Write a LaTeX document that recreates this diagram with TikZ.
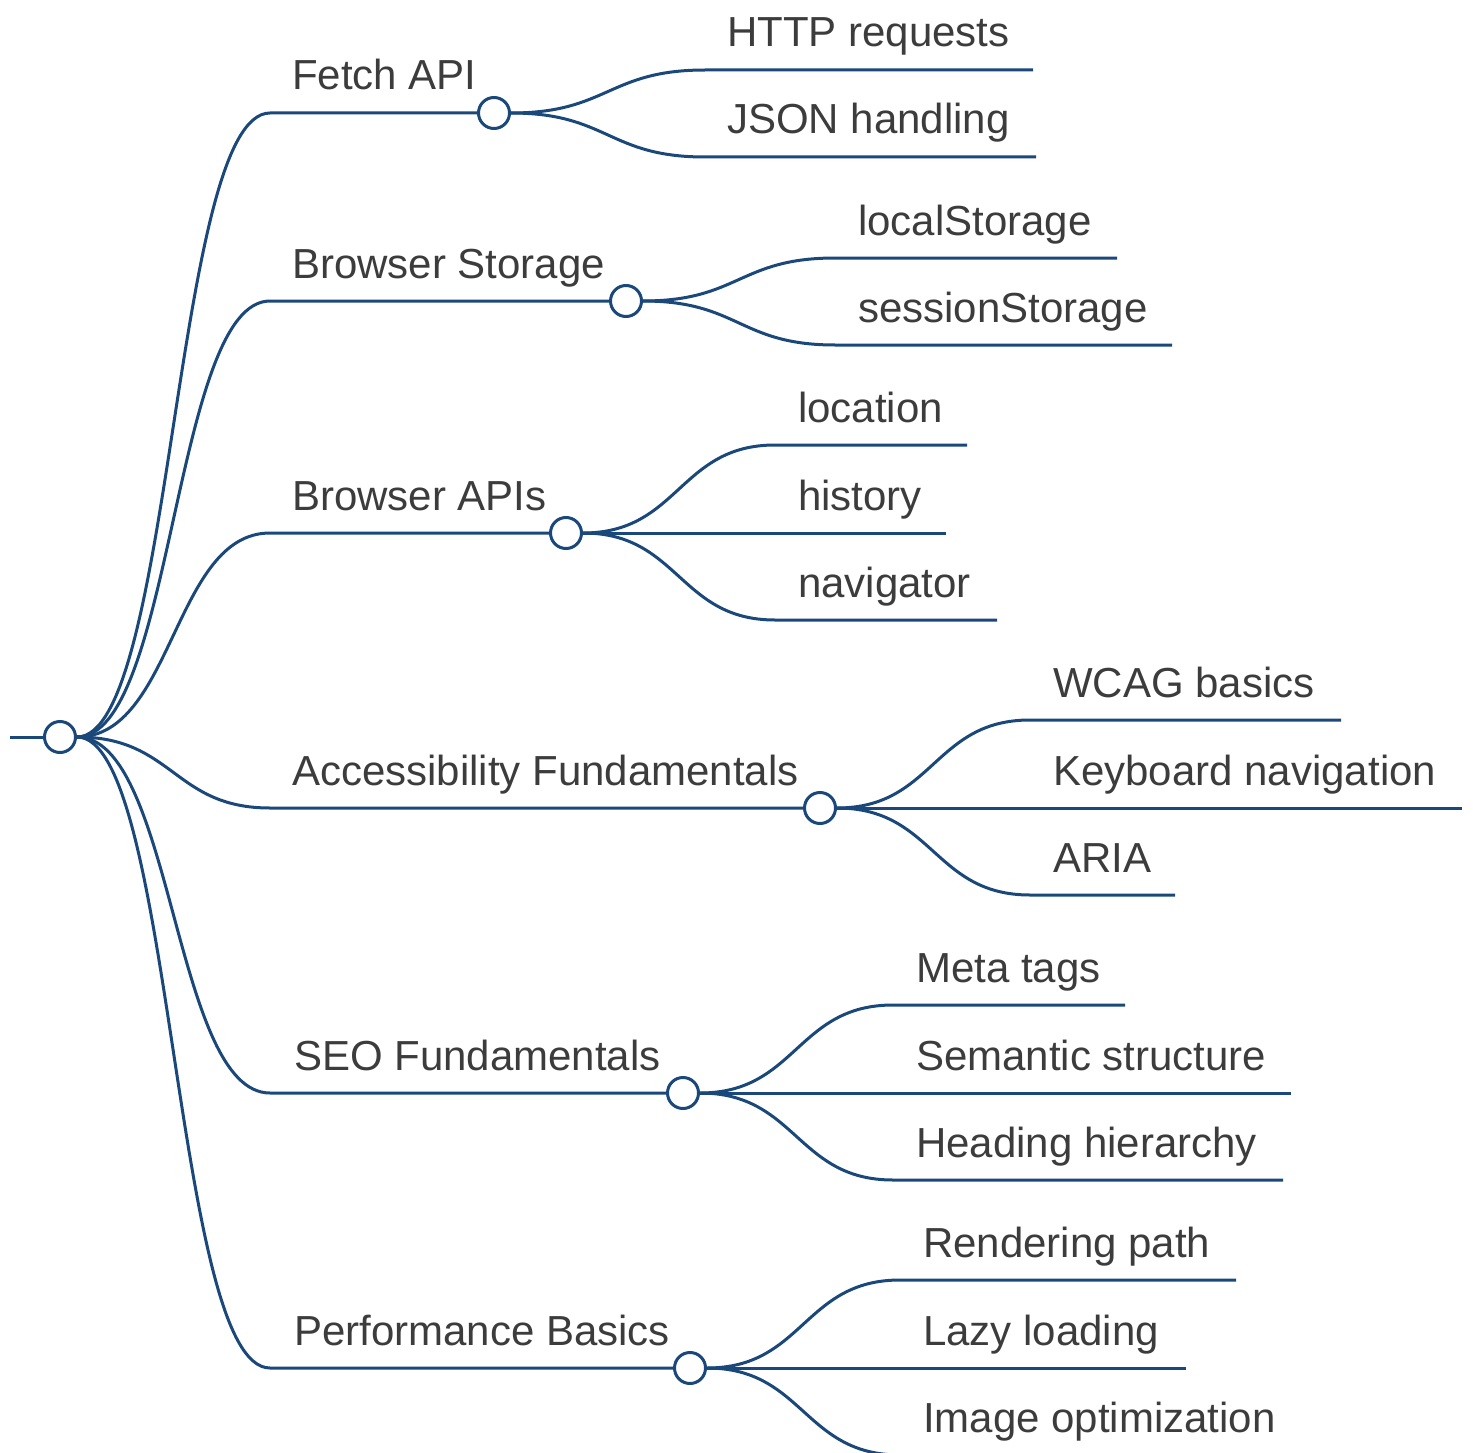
\documentclass[tikz,border=0pt]{standalone}
\usepackage{fontspec}
\setmainfont{Liberation Sans}
\usetikzlibrary{calc}
\definecolor{edgecol}{RGB}{26,72,122}
\definecolor{txtcol}{RGB}{60,60,60}
\begin{document}
\begin{tikzpicture}[x=1pt,y=-1pt,
  edgeline/.style={draw=edgecol,line width=3pt},
  hub/.style={circle,draw=edgecol,fill=white,line width=3pt,minimum size=31pt,inner sep=0pt},
  lbl/.style={anchor=base west,inner sep=0pt,text=txtcol,font=\fontsize{42}{50}\selectfont},
  hc/.style={to path={let \p1=(\tikztostart),\p2=(\tikztotarget) in .. controls ({(\x1+\x2)/2},\y1) and ({(\x1+\x2)/2},\y2) .. (\tikztotarget)}}
]
\useasboundingbox (0,0) rectangle (1473,1453);

% root
\coordinate (rootin) at (10,737);
\node[hub] (root) at (60,737) {};

% level 1 hubs
\node[hub] (fetch) at (494,113) {};
\node[hub] (stor) at (626,301) {};
\node[hub] (apis) at (566,533) {};
\node[hub] (acc) at (820,808) {};
\node[hub] (seo) at (683,1093) {};
\node[hub] (perf) at (690,1368) {};

\coordinate (fetchS) at (270,113);
\coordinate (storS) at (270,301);
\coordinate (apisS) at (270,533);
\coordinate (accS) at (270,808);
\coordinate (seoS) at (270,1093);
\coordinate (perfS) at (270,1368);

\draw[edgeline] (rootin) -- (root.west);
\draw[edgeline] (root.east) to[hc] (fetchS) -- (fetch.west);
\draw[edgeline] (root.east) to[hc] (storS) -- (stor.west);
\draw[edgeline] (root.east) to[hc] (apisS) -- (apis.west);
\draw[edgeline] (root.east) to[hc] (accS) -- (acc.west);
\draw[edgeline] (root.east) to[hc] (seoS) -- (seo.west);
\draw[edgeline] (root.east) to[hc] (perfS) -- (perf.west);

\node[lbl] (fetchT) at (292,90) {Fetch API};
\node[lbl] (storT) at (292,278) {Browser Storage};
\node[lbl] (apisT) at (292,510) {Browser APIs};
\node[lbl] (accT) at (292,785) {Accessibility Fundamentals};
\node[lbl] (seoT) at (294,1070) {SEO Fundamentals};
\node[lbl] (perfT) at (294,1345) {Performance Basics};

% Fetch API leaves
\coordinate (httpS) at (705,70); \coordinate (httpE) at (1033,70);
\coordinate (jsonS) at (705,157); \coordinate (jsonE) at (1036,157);
\draw[edgeline] (fetch.east) to[hc] (httpS) -- (httpE);
\draw[edgeline] (fetch.east) to[hc] (jsonS) -- (jsonE);
\node[lbl] (httpT) at (727,47) {HTTP requests};
\node[lbl] (jsonT) at (727,134) {JSON handling};

% Browser Storage leaves
\coordinate (locsS) at (835,258); \coordinate (locsE) at (1117,258);
\coordinate (sessS) at (835,345); \coordinate (sessE) at (1172,345);
\draw[edgeline] (stor.east) to[hc] (locsS) -- (locsE);
\draw[edgeline] (stor.east) to[hc] (sessS) -- (sessE);
\node[lbl] (locsT) at (858,235) {localStorage};
\node[lbl] (sessT) at (858,322) {sessionStorage};

% Browser APIs leaves
\coordinate (locS) at (775,445); \coordinate (locE) at (967,445);
\coordinate (histS) at (775,533); \coordinate (histE) at (946,533);
\coordinate (navS) at (775,620); \coordinate (navE) at (997,620);
\draw[edgeline] (apis.east) to[hc] (locS) -- (locE);
\draw[edgeline] (apis.east) -- (histS) -- (histE);
\draw[edgeline] (apis.east) to[hc] (navS) -- (navE);
\node[lbl] (locT) at (798,422) {location};
\node[lbl] (histT) at (798,510) {history};
\node[lbl] (navT) at (798,597) {navigator};

% Accessibility leaves
\coordinate (wcagS) at (1030,720); \coordinate (wcagE) at (1341,720);
\coordinate (kbdS) at (1030,808); \coordinate (kbdE) at (1462,808);
\coordinate (ariaS) at (1030,895); \coordinate (ariaE) at (1175,895);
\draw[edgeline] (acc.east) to[hc] (wcagS) -- (wcagE);
\draw[edgeline] (acc.east) -- (kbdS) -- (kbdE);
\draw[edgeline] (acc.east) to[hc] (ariaS) -- (ariaE);
\node[lbl] (wcagT) at (1053,697) {WCAG basics};
\node[lbl] (kbdT) at (1053,785) {Keyboard navigation};
\node[lbl] (ariaT) at (1053,872) {ARIA};

% SEO leaves
\coordinate (metaS) at (893,1005); \coordinate (metaE) at (1125,1005);
\coordinate (semS) at (893,1093); \coordinate (semE) at (1291,1093);
\coordinate (headS) at (893,1180); \coordinate (headE) at (1283,1180);
\draw[edgeline] (seo.east) to[hc] (metaS) -- (metaE);
\draw[edgeline] (seo.east) -- (semS) -- (semE);
\draw[edgeline] (seo.east) to[hc] (headS) -- (headE);
\node[lbl] (metaT) at (916,982) {Meta tags};
\node[lbl] (semT) at (916,1070) {Semantic structure};
\node[lbl] (headT) at (916,1157) {Heading hierarchy};

% Performance leaves
\coordinate (rendS) at (900,1280); \coordinate (rendE) at (1236,1280);
\coordinate (lazyS) at (900,1368); \coordinate (lazyE) at (1186,1368);
\coordinate (imgS) at (900,1455); \coordinate (imgE) at (1300,1455);
\draw[edgeline] (perf.east) to[hc] (rendS) -- (rendE);
\draw[edgeline] (perf.east) -- (lazyS) -- (lazyE);
\draw[edgeline] (perf.east) to[hc] (imgS) -- (imgE);
\node[lbl] (rendT) at (923,1257) {Rendering path};
\node[lbl] (lazyT) at (923,1345) {Lazy loading};
\node[lbl] (imgT) at (923,1432) {Image optimization};
\end{tikzpicture}
\end{document}
